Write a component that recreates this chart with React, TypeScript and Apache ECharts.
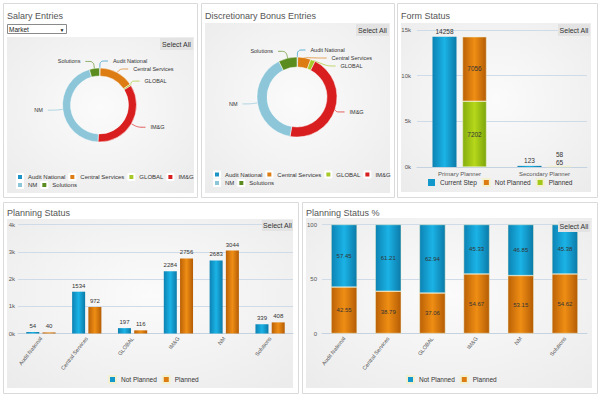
import React, { useEffect, useRef } from 'react';
import * as echarts from 'echarts';

const FONT = "'Liberation Sans', Arial, Helvetica, sans-serif";

// Business units shared by the donuts and the planning charts
const units = ['Audit National', 'Central Services', 'GLOBAL', 'IM&G', 'NM', 'Solutions'];
const unitColors = ['#1e93c6', '#dc7c12', '#a8c92a', '#d81e1e', '#8cc6d8', '#5b8c1f'];
const salaryShare = [0.3, 15.2, 0.7, 34.4, 44.9, 4.4];
const bonusShare = [0.3, 5.3, 1.9, 45.3, 39.7, 7.5];

// Form status
const formCategories = ['Primary Planner', 'Secondary Planner'];
const formCurrentStep = [14258, 123];
const formNotPlanned = [7056, 58];
const formPlanned = [7202, 65];
const formTickLabels = ['0k', '5k', '10k', '15k'];

// Planning status (counts)
const planNotPlanned = [54, 1534, 197, 2284, 2683, 339];
const planPlanned = [40, 972, 116, 2756, 3044, 408];
const planTickLabels = ['0k', '1k', '2k', '3k', '4k'];

// Planning status (percent)
const pctNotPlanned = [57.45, 61.21, 62.94, 45.33, 46.85, 45.38];
const pctPlanned = [42.55, 38.79, 37.06, 54.67, 53.15, 54.62];
const pctTickLabels = ['0', '50', '100'];

const BLUE = '#1398cc';
const ORANGE = '#dd7c10';
const GREEN = '#a3c819';

const grad = (edge1: string, mid: string, edge2: string) =>
  new echarts.graphic.LinearGradient(0, 0, 1, 0, [
    { offset: 0, color: edge1 },
    { offset: 0.5, color: mid },
    { offset: 1, color: edge2 },
  ]);
const blueFill = () => grad('#0c82b3', '#1bb3e6', '#0b7aa8');
const orangeFill = () => grad('#bb6106', '#ef8e14', '#b45c05');
const greenFill = () => grad('#84ad0d', '#b6d71a', '#7ca50c');

const panel = (x: number, y: number, w: number, h: number) => ({
  type: 'rect', silent: true, z: -20,
  shape: { x: x + 0.5, y: y + 0.5, width: w, height: h },
  style: { fill: '#ffffff', stroke: '#dadada', lineWidth: 1 },
});
const inner = (x: number, y: number, w: number, h: number) => ({
  type: 'rect', silent: true, z: -10,
  shape: { x, y, width: w, height: h },
  style: {
    fill: new echarts.graphic.RadialGradient(0.5, 0.45, 0.75, [
      { offset: 0, color: '#fbfbfb' },
      { offset: 1, color: '#ebebeb' },
    ]),
  },
});
const button = (x: number, y: number, w: number, h: number) => [
  { type: 'rect', z: 100, shape: { x, y, width: w, height: h }, style: { fill: '#e3e3e3' } },
  {
    type: 'text', z: 101,
    style: {
      x: x + w / 2, y: y + h / 2, text: 'Select All', fill: '#333', font: `7px ${FONT}`,
      align: 'center', verticalAlign: 'middle', textAlign: 'center', textVerticalAlign: 'middle',
    },
  },
];

const titleStyle = { fontSize: 9, fontWeight: 'normal', color: '#555', fontFamily: FONT };
const axisText = { fontSize: 6, color: '#555', fontFamily: FONT };
const legendBase = {
  itemWidth: 6, itemHeight: 6, itemGap: 3, icon: 'rect', padding: 0,
  textStyle: { fontSize: 6, color: '#333', fontFamily: FONT },
};
const barLegend = {
  ...legendBase, itemWidth: 7, itemHeight: 7, itemGap: 5,
  textStyle: { fontSize: 6.5, color: '#333', fontFamily: FONT },
};
const splitLine = { show: true, lineStyle: { color: '#cfdbe6', width: 1 } };

const pieSeries = (name: string, shares: number[], center: number[], radius: number[]) => ({
  type: 'pie', name, center, radius, startAngle: 90, clockwise: true,
  avoidLabelOverlap: true,
  label: { formatter: '{b}', fontSize: 5.5, color: '#333', fontFamily: FONT },
  labelLine: { length: 7, length2: 8, smooth: 0.3, lineStyle: { width: 0.7 } },
  itemStyle: { borderColor: '#ffffff', borderWidth: 0.5 },
  data: units.map((n, i) => ({ name: n, value: shares[i], itemStyle: { color: unitColors[i] } })),
});

// the tiny Secondary Planner segments carry their labels stacked above the bar
const smallAbove = (values: number[], distance: number) =>
  values.map((v) => (v < 1000 ? { value: v, label: { position: 'top', distance } } : v));

export default function App() {
  const ref = useRef<HTMLDivElement>(null);

  useEffect(() => {
    if (!ref.current) return;
    const chart = echarts.init(ref.current, null, { renderer: 'svg' });

    const option: any = {
      animation: false,
      backgroundColor: '#ffffff',
      textStyle: { fontFamily: FONT },
      title: [
        { text: 'Salary Entries', left: 7, top: 11, padding: 0, textStyle: titleStyle },
        { text: 'Discretionary Bonus Entries', left: 205, top: 11, padding: 0, textStyle: titleStyle },
        { text: 'Form Status', left: 401, top: 11, padding: 0, textStyle: titleStyle },
        { text: 'Planning Status', left: 7, top: 208, padding: 0, textStyle: titleStyle },
        { text: 'Planning Status %', left: 306, top: 208, padding: 0, textStyle: titleStyle },
      ],
      graphic: [
        panel(3, 3, 194, 194),
        panel(201, 3, 193, 194),
        panel(397, 3, 200, 194),
        panel(3, 202, 295, 191),
        panel(302, 202, 295, 191),
        inner(7, 37, 187, 156),
        inner(205, 23, 185, 170),
        inner(401, 23, 190, 169),
        inner(7, 219, 286, 169),
        inner(306, 218, 286, 170),
        // market selector
        { type: 'rect', z: 5, shape: { x: 7.5, y: 24.5, width: 59, height: 9 }, style: { fill: '#fff', stroke: '#8a8a8a', lineWidth: 1 } },
        { type: 'text', z: 6, style: { x: 9, y: 29.5, text: 'Market', fill: '#222', font: `6.5px ${FONT}`, verticalAlign: 'middle', textVerticalAlign: 'middle' } },
        { type: 'text', z: 6, style: { x: 62, y: 29.5, text: '▼', fill: '#222', font: `5px ${FONT}`, align: 'center', textAlign: 'center', verticalAlign: 'middle', textVerticalAlign: 'middle' } },
        ...button(160, 38, 33, 12),
        ...button(356, 24, 33, 12),
        ...button(558, 24, 32, 12),
        ...button(262, 220, 31, 11),
        ...button(558, 221, 32, 11),
      ],
      legend: [
        { ...legendBase, left: 16, top: 173, data: units.slice(0, 4) },
        { ...legendBase, left: 16, top: 181, data: units.slice(4) },
        { ...legendBase, left: 213, top: 170.5, data: units.slice(0, 4) },
        { ...legendBase, left: 213, top: 179, data: units.slice(4) },
        {
          ...barLegend, left: 428, top: 178,
          data: [
            { name: 'Current Step', itemStyle: { color: BLUE } },
            { name: 'Not Planned', itemStyle: { color: ORANGE } },
            { name: 'Planned', itemStyle: { color: GREEN } },
          ],
        },
        {
          ...barLegend, left: 108, top: 375,
          data: [
            { name: 'Not Planned', itemStyle: { color: BLUE } },
            { name: 'Planned', itemStyle: { color: ORANGE } },
          ],
        },
        {
          ...barLegend, left: 406, top: 375,
          data: [
            { name: 'Not Planned', itemStyle: { color: BLUE } },
            { name: 'Planned', itemStyle: { color: ORANGE } },
          ],
        },
      ],
      grid: [
        { left: 417, right: 13, top: 30, bottom: 233 },
        { left: 18, right: 307, top: 224.5, bottom: 66.5 },
        { left: 322, right: 13, top: 224.5, bottom: 66.5 },
      ],
      xAxis: [
        {
          type: 'category', gridIndex: 0, data: formCategories,
          axisLine: { lineStyle: { color: '#c5d3e0' } }, axisTick: { show: false },
          axisLabel: { ...axisText, margin: 4 },
        },
        {
          type: 'category', gridIndex: 1, data: units,
          axisLine: { lineStyle: { color: '#c5d3e0' } }, axisTick: { show: false },
          axisLabel: { ...axisText, fontSize: 5.5, rotate: 52, margin: 4, interval: 0 },
        },
        {
          type: 'category', gridIndex: 2, data: units,
          axisLine: { lineStyle: { color: '#c5d3e0' } }, axisTick: { show: false },
          axisLabel: { ...axisText, fontSize: 5.5, rotate: 52, margin: 4, interval: 0 },
        },
      ],
      yAxis: [
        {
          type: 'value', gridIndex: 0, min: 0, max: 15000, interval: 5000,
          axisLine: { show: false }, axisTick: { show: false }, splitLine,
          axisLabel: { ...axisText, margin: 6, formatter: (v: number) => formTickLabels[Math.round(v / 5000)] },
        },
        {
          type: 'value', gridIndex: 1, min: 0, max: 4000, interval: 1000,
          axisLine: { show: false }, axisTick: { show: false }, splitLine,
          axisLabel: { ...axisText, margin: 3, formatter: (v: number) => planTickLabels[Math.round(v / 1000)] },
        },
        {
          type: 'value', gridIndex: 2, min: 0, max: 100, interval: 50,
          axisLine: { show: false }, axisTick: { show: false }, splitLine,
          axisLabel: { ...axisText, margin: 5, formatter: (v: number) => pctTickLabels[Math.round(v / 50)] },
        },
      ],
      series: [
        pieSeries('Salary Entries', salaryShare, [99.5, 105], [29, 37]),
        pieSeries('Discretionary Bonus Entries', bonusShare, [297, 97], [30, 40]),

        // Form Status
        {
          type: 'bar', name: 'Current Step', xAxisIndex: 0, yAxisIndex: 0,
          barWidth: 24, barGap: '25%', data: formCurrentStep,
          itemStyle: { color: blueFill() },
          label: { show: true, position: 'top', distance: 2, ...axisText, fontSize: 6.5, color: '#333' },
        },
        {
          type: 'bar', name: 'Planned', xAxisIndex: 0, yAxisIndex: 0, stack: 'form',
          barWidth: 24, barGap: '25%', data: smallAbove(formPlanned, 0),
          itemStyle: { color: greenFill(), borderColor: '#f3f0d0', borderWidth: 0.5 },
          label: { show: true, position: 'inside', ...axisText, fontSize: 6.5, color: '#333' },
        },
        {
          type: 'bar', name: 'Not Planned', xAxisIndex: 0, yAxisIndex: 0, stack: 'form',
          barWidth: 24, barGap: '25%', data: smallAbove(formNotPlanned, 8),
          itemStyle: { color: orangeFill(), borderColor: '#f3f0d0', borderWidth: 0.5 },
          label: { show: true, position: 'inside', ...axisText, fontSize: 6.5, color: '#333' },
        },

        // Planning Status
        {
          type: 'bar', name: 'Not Planned', xAxisIndex: 1, yAxisIndex: 1,
          barWidth: 13, barGap: '25%', data: planNotPlanned,
          itemStyle: { color: blueFill() },
          label: { show: true, position: 'top', distance: 3, ...axisText, fontSize: 6, color: '#333' },
        },
        {
          type: 'bar', name: 'Planned', xAxisIndex: 1, yAxisIndex: 1,
          barWidth: 13, barGap: '25%', data: planPlanned,
          itemStyle: { color: orangeFill() },
          label: { show: true, position: 'top', distance: 3, ...axisText, fontSize: 6, color: '#333' },
        },

        // Planning Status %
        {
          type: 'bar', name: 'Planned', xAxisIndex: 2, yAxisIndex: 2, stack: 'pct',
          barWidth: 26, data: pctPlanned,
          itemStyle: { color: orangeFill(), borderColor: '#f3f0d0', borderWidth: 0.5 },
          label: { show: true, position: 'inside', ...axisText, fontSize: 6, color: '#333', formatter: (p: any) => p.value.toFixed(2) },
        },
        {
          type: 'bar', name: 'Not Planned', xAxisIndex: 2, yAxisIndex: 2, stack: 'pct',
          barWidth: 26, data: pctNotPlanned,
          itemStyle: { color: blueFill(), borderColor: '#f3f0d0', borderWidth: 0.5 },
          label: { show: true, position: 'inside', ...axisText, fontSize: 6, color: '#333', formatter: (p: any) => p.value.toFixed(2) },
        },
      ],
    };

    chart.setOption(option);
    return () => chart.dispose();
  }, []);

  return (
    <div
      ref={ref}
      style={{ position: 'absolute', left: 0, top: 0, width: 600, height: 400, background: '#fff' }}
    />
  );
}
